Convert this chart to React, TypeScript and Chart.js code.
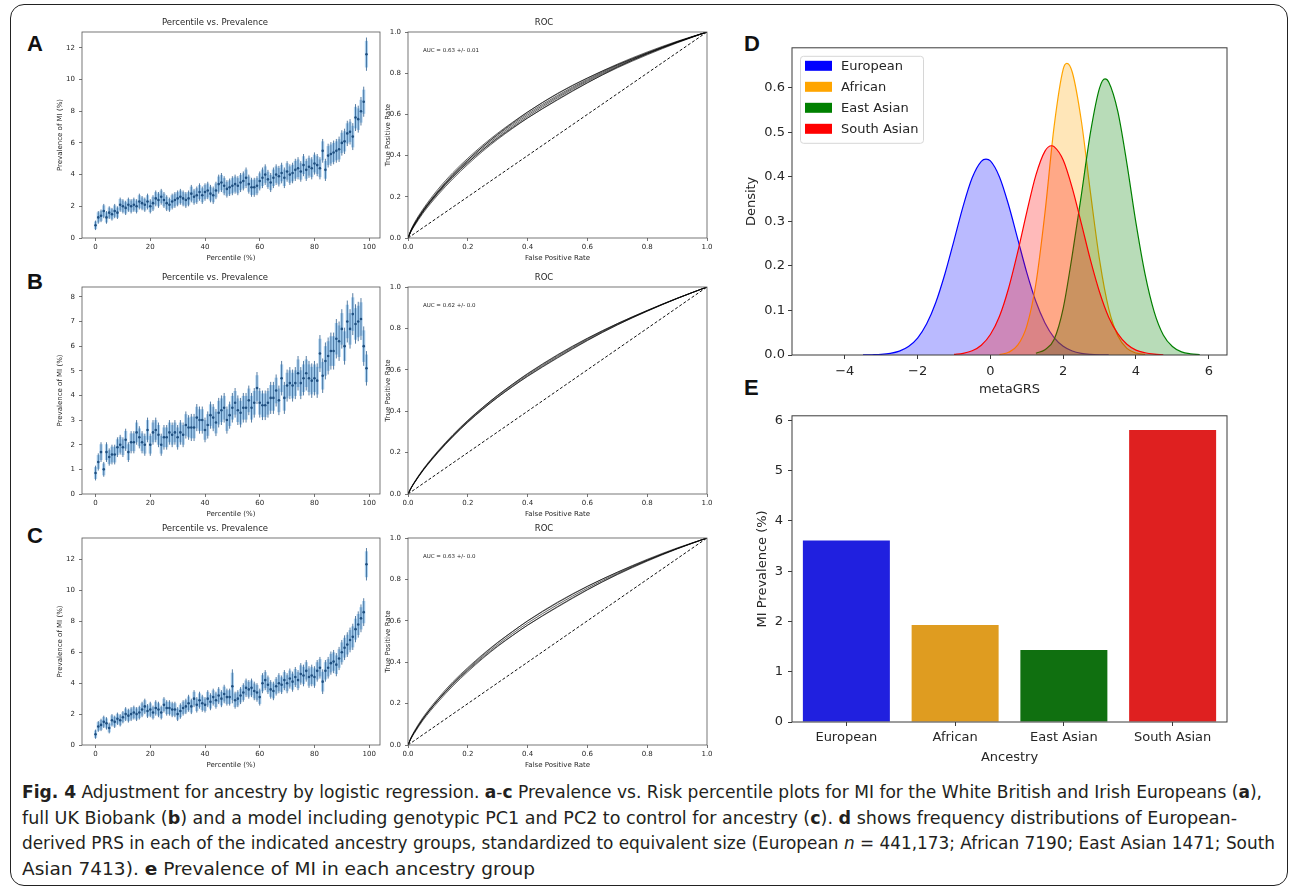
import React, { useEffect, useRef } from "react";
import { Chart, registerables } from "chart.js";

Chart.register(...registerables);

const FONT = "'DejaVu Sans', 'Liberation Sans', Arial, sans-serif";
const TXT = "#262626";
const AX = "#3a3a3a";

// ---------------- DATA ----------------
const percentiles = [0,1,2,3,4,5,6,7,8,9,10,11,12,13,14,15,16,17,18,19,20,21,22,23,24,25,26,27,28,29,30,31,32,33,34,35,36,37,38,39,40,41,42,43,44,45,46,47,48,49,50,51,52,53,54,55,56,57,58,59,60,61,62,63,64,65,66,67,68,69,70,71,72,73,74,75,76,77,78,79,80,81,82,83,84,85,86,87,88,89,90,91,92,93,94,95,96,97,98,99];

const prevA = [0.8,1.3,1.4,1.7,1.3,1.6,1.5,1.7,1.6,2.1,
2.0,1.9,2.1,2.0,2.1,2.0,2.3,2.2,2.1,2.3,
2.0,2.2,2.5,2.4,2.6,2.4,2.2,2.1,2.3,2.4,
2.5,2.6,2.5,2.4,2.5,2.8,2.6,2.7,2.9,2.7,
2.9,3.0,2.8,2.7,3.0,3.4,3.5,3.3,3.1,3.2,
3.3,3.4,3.3,3.5,3.6,3.8,3.4,3.2,3.2,3.3,
3.6,3.8,4.0,3.7,3.5,3.8,4.0,3.9,4.1,3.8,
4.2,4.0,4.1,4.3,4.4,4.2,4.6,4.3,4.5,4.4,
4.7,4.6,4.4,5.5,4.3,5.2,5.3,5.4,5.5,5.6,
6.0,6.1,6.6,6.7,6.4,7.6,7.5,8.0,8.6,11.6];
const errA = [0.3,0.4,0.4,0.45,0.4,0.4,0.4,0.45,0.4,0.45,
0.45,0.45,0.45,0.45,0.45,0.45,0.5,0.45,0.45,0.5,
0.45,0.5,0.5,0.5,0.5,0.5,0.5,0.45,0.5,0.5,
0.5,0.5,0.5,0.5,0.5,0.55,0.5,0.55,0.55,0.55,
0.55,0.55,0.55,0.55,0.55,0.6,0.6,0.6,0.55,0.55,
0.6,0.6,0.6,0.6,0.6,0.65,0.6,0.6,0.6,0.6,
0.6,0.65,0.65,0.6,0.6,0.65,0.65,0.65,0.65,0.65,
0.65,0.65,0.65,0.7,0.7,0.65,0.7,0.7,0.7,0.7,
0.7,0.7,0.7,0.75,0.7,0.75,0.75,0.75,0.75,0.8,
0.8,0.8,0.8,0.8,0.85,0.85,0.85,0.9,0.95,1.05];

const prevB = [0.85,1.3,1.7,1.0,1.7,1.5,1.6,1.6,1.9,2.0,
1.9,2.2,1.7,2.1,2.1,2.5,2.3,2.1,2.0,2.6,
2.0,2.5,2.6,2.4,2.0,2.3,2.3,2.5,2.4,2.5,
2.3,2.5,2.4,2.8,2.7,2.7,2.7,3.1,3.0,3.0,
2.6,2.8,3.2,3.1,2.9,3.3,3.4,3.5,3.0,3.2,
3.5,3.7,3.4,3.3,3.5,3.5,3.8,3.5,3.7,4.3,
3.7,3.6,3.6,3.7,3.9,3.9,4.2,3.8,4.7,3.9,
4.4,4.5,4.4,4.5,4.9,4.5,4.7,4.9,4.7,4.6,
4.7,4.6,5.7,4.8,5.4,5.6,5.8,5.8,6.3,6.2,
6.7,6.0,7.0,6.7,7.3,6.9,7.0,7.1,6.0,5.1];
const errB = [0.3,0.35,0.4,0.3,0.4,0.35,0.4,0.4,0.4,0.4,
0.4,0.45,0.4,0.45,0.45,0.5,0.45,0.45,0.45,0.5,
0.45,0.5,0.5,0.5,0.45,0.5,0.5,0.5,0.5,0.5,
0.5,0.5,0.5,0.55,0.5,0.55,0.55,0.55,0.55,0.55,
0.5,0.55,0.55,0.55,0.55,0.6,0.6,0.6,0.55,0.55,
0.6,0.6,0.6,0.6,0.6,0.6,0.6,0.6,0.6,0.65,
0.6,0.6,0.6,0.6,0.65,0.65,0.65,0.6,0.7,0.65,
0.65,0.65,0.65,0.65,0.7,0.65,0.7,0.7,0.7,0.7,
0.7,0.7,0.75,0.7,0.75,0.75,0.75,0.75,0.8,0.8,
0.8,0.75,0.85,0.8,0.85,0.8,0.8,0.85,0.8,0.7];

const prevC = [0.7,1.2,1.3,1.5,1.4,1.1,1.6,1.5,1.7,1.6,
1.8,2.0,1.9,2.0,2.1,2.0,2.1,2.3,2.5,2.2,
2.3,2.1,2.4,2.3,2.1,2.6,2.4,2.4,2.3,2.3,
2.0,2.2,2.4,2.5,2.7,2.5,3.0,2.6,2.9,2.7,
2.6,3.0,2.8,3.1,2.9,3.2,3.0,3.3,3.1,3.1,
3.8,2.9,3.0,3.2,3.4,3.7,3.6,3.7,3.5,3.4,
3.1,4.0,4.2,3.9,3.6,3.5,3.8,4.0,3.9,4.2,
4.0,4.3,4.1,4.4,4.2,4.6,4.5,4.8,4.4,4.5,
4.4,4.8,5.0,4.1,4.8,5.0,5.3,5.4,5.2,5.6,
6.0,6.3,6.5,6.8,7.0,7.5,7.8,8.2,8.6,11.7];
const errC = [0.3,0.35,0.4,0.4,0.4,0.35,0.4,0.4,0.4,0.4,
0.4,0.45,0.45,0.45,0.45,0.45,0.45,0.5,0.5,0.45,
0.5,0.45,0.5,0.5,0.45,0.5,0.5,0.5,0.5,0.5,
0.45,0.5,0.5,0.5,0.55,0.5,0.55,0.5,0.55,0.55,
0.5,0.55,0.55,0.55,0.55,0.55,0.55,0.6,0.55,0.55,
1.1,0.55,0.55,0.55,0.6,0.6,0.6,0.6,0.6,0.6,
0.55,0.65,0.65,0.6,0.6,0.6,0.6,0.65,0.6,0.65,
0.65,0.65,0.65,0.65,0.65,0.7,0.7,0.7,0.7,0.7,
0.7,0.7,0.7,0.8,0.7,0.7,0.75,0.75,0.75,0.75,
0.8,0.8,0.8,0.8,0.85,0.85,0.85,0.9,0.9,1.05];

const rocFpr = [0,0.01,0.02,0.05,0.1,0.15,0.2,0.25,0.3,0.35,0.4,0.5,0.6,0.7,0.8,0.9,1];
const rocTprA = [
  [0,0.035,0.062,0.13,0.222,0.302,0.372,0.436,0.494,0.547,0.597,0.686,0.765,0.835,0.896,0.951,1],
  [0,0.04,0.07,0.14,0.236,0.317,0.387,0.451,0.509,0.562,0.612,0.7,0.776,0.844,0.903,0.955,1],
  [0,0.031,0.055,0.12,0.209,0.287,0.357,0.421,0.479,0.532,0.582,0.673,0.754,0.826,0.889,0.947,1],
  [0,0.037,0.066,0.135,0.228,0.309,0.379,0.443,0.501,0.554,0.604,0.692,0.77,0.839,0.899,0.953,1],
  [0,0.033,0.058,0.125,0.216,0.295,0.365,0.429,0.487,0.54,0.59,0.68,0.76,0.831,0.893,0.949,1],
  [0,0.035,0.062,0.13,0.224,0.306,0.378,0.444,0.504,0.559,0.611,0.702,0.777,0.841,0.898,0.951,1],
  [0,0.035,0.062,0.13,0.22,0.298,0.366,0.428,0.484,0.535,0.583,0.67,0.753,0.829,0.894,0.951,1],
];
const rocTprB = [
  [0,0.028,0.052,0.115,0.203,0.281,0.351,0.414,0.472,0.525,0.575,0.665,0.747,0.82,0.885,0.945,1],
  [0,0.03,0.055,0.119,0.208,0.286,0.356,0.419,0.477,0.53,0.58,0.67,0.751,0.823,0.887,0.946,1],
  [0,0.027,0.05,0.112,0.199,0.276,0.346,0.409,0.467,0.52,0.57,0.66,0.743,0.817,0.883,0.944,1],
  [0,0.028,0.052,0.115,0.204,0.283,0.354,0.418,0.477,0.531,0.582,0.673,0.753,0.823,0.886,0.945,1],
  [0,0.028,0.052,0.115,0.202,0.279,0.348,0.41,0.467,0.519,0.568,0.657,0.741,0.817,0.884,0.945,1],
];
const rocTprC = [
  [0,0.033,0.059,0.126,0.216,0.295,0.364,0.428,0.486,0.539,0.589,0.678,0.758,0.829,0.892,0.949,1],
  [0,0.036,0.064,0.133,0.225,0.305,0.374,0.438,0.496,0.549,0.599,0.687,0.766,0.835,0.897,0.952,1],
  [0,0.03,0.054,0.119,0.207,0.285,0.354,0.418,0.476,0.529,0.579,0.669,0.751,0.823,0.888,0.947,1],
  [0,0.033,0.059,0.126,0.218,0.298,0.369,0.434,0.494,0.548,0.6,0.69,0.767,0.834,0.894,0.949,1],
  [0,0.033,0.059,0.126,0.215,0.292,0.36,0.422,0.479,0.53,0.579,0.666,0.749,0.825,0.891,0.949,1],
];
const aucLabels = ["AUC = 0.63 +/- 0.01", "AUC = 0.62 +/- 0.0", "AUC = 0.63 +/- 0.0"];

const eurX = [-3.5,-3.25,-3,-2.75,-2.5,-2.25,-2,-1.75,-1.5,-1.25,-1,-0.75,-0.5,-0.25,-0.12,0,0.25,0.5,0.75,1,1.25,1.5,1.75,2,2.25,2.5,2.75,3,3.25];
const eurY = [0.0002,0.0006,0.0014,0.0037,0.0087,0.019,0.038,0.07,0.118,0.182,0.257,0.334,0.398,0.435,0.44,0.436,0.4,0.337,0.261,0.185,0.12,0.072,0.039,0.0196,0.009,0.0038,0.0015,0.0005,0.0002];
const afrX = [0.25,0.5,0.75,1,1.25,1.5,1.75,2,2.1,2.25,2.5,2.75,3,3.25,3.5,3.75,4,4.25];
const afrY = [0.001,0.006,0.022,0.065,0.16,0.32,0.513,0.642,0.655,0.635,0.525,0.364,0.213,0.104,0.043,0.015,0.0044,0.001];
const easX = [1.25,1.5,1.75,2,2.25,2.5,2.75,3,3.15,3.25,3.5,3.75,4,4.25,4.5,4.75,5,5.25,5.5,5.75];
const easY = [0.004,0.012,0.035,0.105,0.225,0.36,0.5,0.6,0.62,0.613,0.547,0.43,0.296,0.181,0.097,0.045,0.019,0.007,0.0025,0.0008];
const sasX = [-1,-0.75,-0.5,-0.25,0,0.25,0.5,0.75,1,1.25,1.5,1.68,1.75,2,2.25,2.5,2.75,3,3.25,3.5,3.75,4,4.25,4.5,4.75];
const sasY = [0.0013,0.0037,0.0095,0.022,0.046,0.087,0.15,0.231,0.321,0.404,0.458,0.47,0.468,0.438,0.375,0.295,0.213,0.141,0.085,0.048,0.024,0.011,0.005,0.002,0.0006];

const ancestryLabels = ["European", "African", "East Asian", "South Asian"];
const miPrevalence = [3.61, 1.93, 1.43, 5.81];
const lineColors = ["#0000ff", "#ffa500", "#008000", "#ff0000"];
const fillColors = ["rgba(0,0,255,0.27)", "rgba(255,165,0,0.28)", "rgba(0,128,0,0.28)", "rgba(255,0,0,0.27)"];
const barColors = ["#2020df", "#df9c20", "#107010", "#df2020"];

const pctTicksX = [0,20,40,60,80,100];
const pctTicksY12 = [0,2,4,6,8,10,12];
const pctTicksY8 = [0,1,2,3,4,5,6,7,8];
const rocTicks = [0,0.2,0.4,0.6,0.8,1];
const densTicksX = [-4,-2,0,2,4,6];
const densTicksY = [0,0.1,0.2,0.3,0.4,0.5,0.6];
const prevTicksY = [0,1,2,3,4,5,6];

// ---------------- PLUGINS ----------------
const framePlugin = {
  id: "frame",
  afterDraw(chart: any, _a: any, opts: any) {
    const { ctx, chartArea: c } = chart;
    ctx.save();
    ctx.strokeStyle = opts.color || AX;
    ctx.lineWidth = opts.width || 1;
    ctx.strokeRect(c.left, c.top, c.right - c.left, c.bottom - c.top);
    ctx.restore();
  },
};

const errorBarPlugin = {
  id: "errorBars",
  beforeDatasetsDraw(chart: any, _a: any, opts: any) {
    const errs = opts && opts.errors;
    if (!errs) return;
    const { ctx, chartArea: c } = chart;
    const xs = chart.scales.x, ys = chart.scales.y;
    const pts = chart.data.datasets[0].data;
    ctx.save();
    ctx.beginPath();
    ctx.rect(c.left, c.top, c.right - c.left, c.bottom - c.top);
    ctx.clip();
    ctx.lineCap = "butt";
    ctx.strokeStyle = "rgba(110,175,230,0.55)";
    ctx.lineWidth = 3.2;
    pts.forEach((p: any, i: number) => {
      const px = xs.getPixelForValue(p.x);
      const e = errs[i] * 0.8;
      ctx.beginPath();
      ctx.moveTo(px, ys.getPixelForValue(p.y - e));
      ctx.lineTo(px, ys.getPixelForValue(p.y + e));
      ctx.stroke();
    });
    ctx.strokeStyle = "rgba(35,85,135,0.85)";
    ctx.lineWidth = 0.9;
    pts.forEach((p: any, i: number) => {
      const px = xs.getPixelForValue(p.x);
      const e = errs[i];
      ctx.beginPath();
      ctx.moveTo(px, ys.getPixelForValue(p.y - e));
      ctx.lineTo(px, ys.getPixelForValue(p.y + e));
      ctx.stroke();
    });
    ctx.restore();
  },
};

const textPlugin = {
  id: "noteText",
  afterDatasetsDraw(chart: any, _a: any, opts: any) {
    if (!opts || !opts.text) return;
    const { ctx } = chart;
    ctx.save();
    ctx.fillStyle = TXT;
    ctx.font = `${opts.size}px ${FONT}`;
    ctx.textBaseline = "middle";
    ctx.textAlign = "left";
    ctx.fillText(opts.text, chart.scales.x.getPixelForValue(opts.x), chart.scales.y.getPixelForValue(opts.y));
    ctx.restore();
  },
};

const insideLegendPlugin = {
  id: "insideLegend",
  afterDatasetsDraw(chart: any, _a: any, opts: any) {
    if (!opts || !opts.show) return;
    const { ctx, chartArea: c } = chart;
    const x0 = c.left + 8, y0 = c.top + 8, w = 123, h = 87;
    ctx.save();
    ctx.fillStyle = "rgba(255,255,255,0.8)";
    ctx.strokeStyle = "#d6d6d6";
    ctx.lineWidth = 1;
    ctx.beginPath();
    (ctx as any).roundRect(x0 + 0.5, y0 + 0.5, w, h, 3);
    ctx.fill();
    ctx.stroke();
    ctx.font = `13px ${FONT}`;
    ctx.textBaseline = "middle";
    chart.data.datasets.forEach((ds: any, i: number) => {
      const cy = y0 + 10 + i * 21;
      ctx.fillStyle = ds.borderColor;
      ctx.fillRect(x0 + 5, cy - 5, 27, 10);
      ctx.fillStyle = TXT;
      ctx.fillText(ds.label, x0 + 41, cy + 0.5);
    });
    ctx.restore();
  },
};

// ---------------- HELPERS ----------------
function mkAxis(o: any) {
  const isX = o.pos === "x";
  const ax: any = {
    type: o.type || "linear",
    position: isX ? "bottom" : "left",
    offset: !!o.offset,
    afterFit: (s: any) => {
      if (isX) s.height = o.size;
      else s.width = o.size;
    },
    ticks: {
      font: { family: FONT, size: o.fs },
      color: TXT,
      padding: o.pad,
      maxRotation: 0,
      minRotation: 0,
      autoSkip: false,
    },
    grid: {
      display: true,
      drawOnChartArea: false,
      drawTicks: true,
      tickLength: o.tl,
      tickWidth: o.lw,
      lineWidth: o.lw,
      color: AX,
      offset: false,
    },
    border: { display: false },
    title: {
      display: true,
      text: o.title,
      color: TXT,
      font: { family: FONT, size: o.tfs },
      padding: isX ? { top: 0, bottom: o.tpad } : { top: o.tpad, bottom: 0 },
    },
  };
  if (o.min !== undefined) ax.min = o.min;
  if (o.max !== undefined) ax.max = o.max;
  if (o.ticks) ax.afterBuildTicks = (s: any) => { s.ticks = o.ticks.map((v: number) => ({ value: v })); };
  if (o.fmt) ax.ticks.callback = o.fmt;
  return ax;
}

function baseOptions(extra: any) {
  return {
    responsive: false,
    maintainAspectRatio: false,
    animation: false,
    devicePixelRatio: 1,
    events: [],
    layout: { autoPadding: false, padding: extra.padding },
    plugins: {
      legend: { display: false },
      tooltip: { enabled: false },
      title: extra.title
        ? { display: true, text: extra.title, color: TXT, font: { family: FONT, size: extra.titleSize, weight: "normal" }, padding: { top: 0, bottom: 4 } }
        : { display: false },
      ...(extra.plugins || {}),
    },
    scales: extra.scales,
  };
}

function ChartCanvas({ left, top, width, height, make }: any) {
  const ref = useRef<HTMLCanvasElement>(null);
  useEffect(() => {
    const chart = new Chart(ref.current as HTMLCanvasElement, make());
    return () => chart.destroy();
  }, []);
  return (
    <canvas
      ref={ref}
      width={width}
      height={height}
      style={{ position: "absolute", left, top, width, height }}
    />
  );
}

const intFmt = (v: any) => String(v);
const oneDec = (v: any) => Number(v).toFixed(1);
const minusInt = (v: any) => (v < 0 ? "\u2212" + Math.abs(v) : String(v));

// small panel geometry
const SMALL_TITLE = 8.5;
const SMALL_TITLE_H = SMALL_TITLE * 1.2 + 4;
const TOP_SPACE = 16;
const X_H = 28;

function percentileConfig(vals: number[], errs: number[], yMax: number, yTicks: number[]) {
  return () => ({
    type: "scatter",
    data: {
      datasets: [
        {
          data: vals.map((v, i) => ({ x: percentiles[i], y: v })),
          pointRadius: 1.3,
          pointBackgroundColor: "#1f4f80",
          pointBorderWidth: 0,
        },
      ],
    },
    plugins: [errorBarPlugin, framePlugin],
    options: baseOptions({
      padding: { top: TOP_SPACE - SMALL_TITLE_H, right: 4, left: 0, bottom: 0 },
      title: "Percentile vs. Prevalence",
      titleSize: SMALL_TITLE,
      plugins: { errorBars: { errors: errs }, frame: { color: "#555", width: 0.8 } },
      scales: {
        x: mkAxis({ pos: "x", min: -4.95, max: 103.95, ticks: pctTicksX, fmt: intFmt, fs: 7, pad: 2, tl: 3, lw: 0.7, title: "Percentile (%)", tfs: 7, tpad: 3.8, size: X_H }),
        y: mkAxis({ pos: "y", min: 0, max: yMax, ticks: yTicks, fmt: intFmt, fs: 7, pad: 4, tl: 3, lw: 0.7, title: "Prevalence of MI (%)", tfs: 7, tpad: 5.8, size: 32 }),
      },
    }),
  });
}

function rocConfig(curves: number[][], auc: string) {
  return () => ({
    type: "line",
    data: {
      datasets: [
        ...curves.map((tpr) => ({
          data: rocFpr.map((x, i) => ({ x, y: tpr[i] })),
          borderColor: "rgba(0,0,0,0.6)",
          borderWidth: 1,
          pointRadius: 0,
          fill: false,
          cubicInterpolationMode: "monotone",
        })),
        {
          data: [{ x: rocTicks[0], y: rocTicks[0] }, { x: rocTicks[5], y: rocTicks[5] }],
          borderColor: "#111",
          borderWidth: 1,
          borderDash: [3, 2],
          pointRadius: 0,
          fill: false,
        },
      ],
    },
    plugins: [textPlugin, framePlugin],
    options: baseOptions({
      padding: { top: TOP_SPACE - SMALL_TITLE_H, right: 10, left: 0, bottom: 0 },
      title: "ROC",
      titleSize: SMALL_TITLE,
      plugins: { noteText: { text: auc, x: 0.05, y: 0.91, size: 5.5 }, frame: { color: "#555", width: 0.8 } },
      scales: {
        x: mkAxis({ pos: "x", min: 0, max: 1, ticks: rocTicks, fmt: oneDec, fs: 7, pad: 2, tl: 3, lw: 0.7, title: "False Positive Rate", tfs: 7, tpad: 3.8, size: X_H }),
        y: mkAxis({ pos: "y", min: 0, max: 1, ticks: rocTicks, fmt: oneDec, fs: 7, pad: 4, tl: 3, lw: 0.7, title: "True Positive Rate", tfs: 7, tpad: 2.8, size: 27 }),
      },
    }),
  });
}

function densityConfig() {
  const xs = [eurX, afrX, easX, sasX];
  const ys = [eurY, afrY, easY, sasY];
  return {
    type: "line",
    data: {
      datasets: ancestryLabels.map((label, k) => ({
        label,
        data: xs[k].map((x, i) => ({ x, y: ys[k][i] })),
        borderColor: lineColors[k],
        backgroundColor: fillColors[k],
        borderWidth: 1.2,
        pointRadius: 0,
        fill: "origin",
        cubicInterpolationMode: "monotone",
        order: 3 - k,
      })),
    },
    plugins: [insideLegendPlugin, framePlugin],
    options: baseOptions({
      padding: { top: 10, right: 10, left: 0, bottom: 0 },
      plugins: { insideLegend: { show: true }, frame: { color: AX, width: 1 } },
      scales: {
        x: mkAxis({ pos: "x", min: -5.45, max: 6.5, ticks: densTicksX, fmt: minusInt, fs: 13, pad: 5, tl: 4, lw: 1, title: "metaGRS", tfs: 13, tpad: 2.2, size: 45 }),
        y: mkAxis({ pos: "y", min: 0, max: 0.69, ticks: densTicksY, fmt: oneDec, fs: 13, pad: 3, tl: 4, lw: 1, title: "Density", tfs: 13, tpad: 4.2, size: 52 }),
      },
    }),
  };
}

function barConfig() {
  return {
    type: "bar",
    data: {
      labels: ancestryLabels,
      datasets: [
        {
          data: miPrevalence,
          backgroundColor: barColors,
          borderWidth: 0,
          barPercentage: 0.8,
          categoryPercentage: 1,
        },
      ],
    },
    plugins: [framePlugin],
    options: baseOptions({
      padding: { top: 10, right: 10, left: 0, bottom: 0 },
      plugins: { frame: { color: AX, width: 1 } },
      scales: {
        x: mkAxis({ pos: "x", type: "category", offset: true, fs: 13, pad: 4, tl: 4, lw: 1, title: "Ancestry", tfs: 13, tpad: 0, size: 43 }),
        y: mkAxis({ pos: "y", min: 0, max: 6.09, ticks: prevTicksY, fmt: intFmt, fs: 13, pad: 5, tl: 4, lw: 1, title: "MI Prevalence (%)", tfs: 13, tpad: 10.2, size: 47 }),
      },
    }),
  };
}

// ---------------- CAPTION ----------------
const captionTargets = [1240, 1215, 1253, 513];

function Caption() {
  const refs = useRef<(HTMLSpanElement | null)[]>([]);
  useEffect(() => {
    const fit = () => {
      refs.current.forEach((el, i) => {
        if (!el) return;
        el.style.transform = "none";
        const w = el.getBoundingClientRect().width;
        if (w > 0) el.style.transform = `scaleX(${captionTargets[i] / w})`;
      });
    };
    fit();
    if ((document as any).fonts && (document as any).fonts.ready) (document as any).fonts.ready.then(fit);
  }, []);
  const lineStyle: React.CSSProperties = { display: "inline-block", whiteSpace: "nowrap", transformOrigin: "0 0" };
  const lines = [
    <>
      <b>Fig. 4</b> Adjustment for ancestry by logistic regression. <b>a</b>-<b>c</b> Prevalence vs. Risk percentile plots for MI for the White British and Irish Europeans (<b>a</b>),
    </>,
    <>
      full UK Biobank (<b>b</b>) and a model including genotypic PC1 and PC2 to control for ancestry (<b>c</b>). <b>d</b> shows frequency distributions of European-
    </>,
    <>
      derived PRS in each of the indicated ancestry groups, standardized to equivalent size (European <i>n</i> = 441,173; African 7190; East Asian 1471; South
    </>,
    <>
      Asian 7413). <b>e</b> Prevalence of MI in each ancestry group
    </>,
  ];
  return (
    <div
      style={{
        position: "absolute",
        left: 22,
        top: 779,
        fontFamily: "'Liberation Sans Narrow', 'DejaVu Sans Condensed', 'Roboto Condensed', 'Liberation Sans', sans-serif",
        fontSize: 18,
        lineHeight: "25.7px",
        color: "#231f20",
      }}
    >
      {lines.map((l, i) => (
        <div key={i} style={{ height: 25.7 }}>
          <span ref={(el) => { refs.current[i] = el; }} style={lineStyle}>{l}</span>
        </div>
      ))}
    </div>
  );
}

// ---------------- APP ----------------
const letterStyle = (left: number, top: number): React.CSSProperties => ({
  position: "absolute",
  left,
  top,
  fontFamily: "'Liberation Sans', Arial, sans-serif",
  fontWeight: "bold",
  fontSize: 22,
  lineHeight: "22px",
  color: "#111",
});

export default function App() {
  const smallW = 380 - 50 + 4;
  const rocW = 707 - 381 + 10;
  return (
    <div style={{ position: "absolute", left: 0, top: 0, width: 1292, height: 889, background: "#fff", overflow: "hidden" }}>
      <div style={{ position: "absolute", left: 10, top: 4, width: 1278, height: 882, border: "1.5px solid #222", borderRadius: 14, boxSizing: "border-box" }} />

      <div style={letterStyle(27, 33)}>A</div>
      <div style={letterStyle(27, 271)}>B</div>
      <div style={letterStyle(27, 525)}>C</div>
      <div style={letterStyle(744, 33)}>D</div>
      <div style={letterStyle(744, 377)}>E</div>

      <ChartCanvas left={50} top={32 - TOP_SPACE} width={smallW} height={238 + X_H - (32 - TOP_SPACE)} make={percentileConfig(prevA, errA, 13.0, pctTicksY12)} />
      <ChartCanvas left={381} top={32 - TOP_SPACE} width={rocW} height={238 + X_H - (32 - TOP_SPACE)} make={rocConfig(rocTprA, aucLabels[0])} />

      <ChartCanvas left={50} top={287 - TOP_SPACE} width={smallW} height={494 + X_H - (287 - TOP_SPACE)} make={percentileConfig(prevB, errB, 8.4, pctTicksY8)} />
      <ChartCanvas left={381} top={287 - TOP_SPACE} width={rocW} height={494 + X_H - (287 - TOP_SPACE)} make={rocConfig(rocTprB, aucLabels[1])} />

      <ChartCanvas left={50} top={538 - TOP_SPACE} width={smallW} height={745 + X_H - (538 - TOP_SPACE)} make={percentileConfig(prevC, errC, 13.4, pctTicksY12)} />
      <ChartCanvas left={381} top={538 - TOP_SPACE} width={rocW} height={745 + X_H - (538 - TOP_SPACE)} make={rocConfig(rocTprC, aucLabels[2])} />

      <ChartCanvas left={740} top={37} width={1227 - 740 + 10} height={355 + 45 - 37} make={densityConfig} />
      <ChartCanvas left={745} top={403} width={1227 - 745 + 10} height={722 + 43 - 403} make={barConfig} />

      <Caption />
    </div>
  );
}
